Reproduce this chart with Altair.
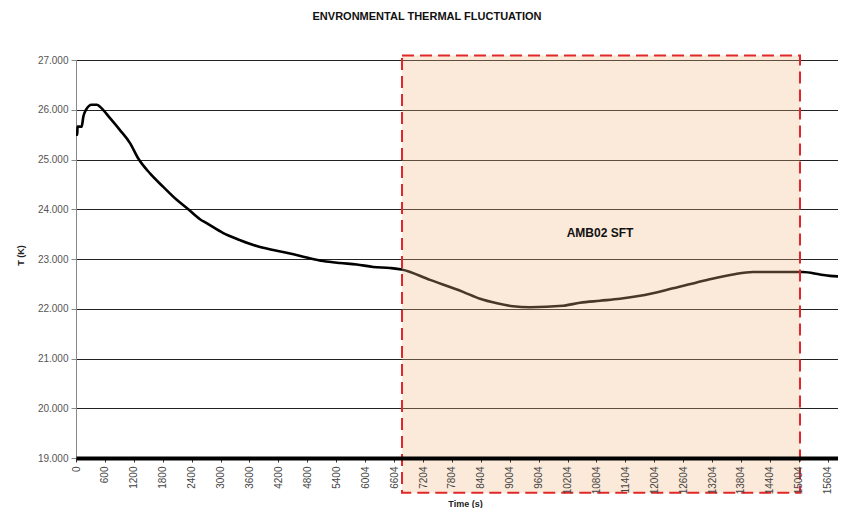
import altair as alt
import pandas as pd

# Time (s) and temperature (K)
time_s = [0, 27, 30, 118, 152, 208, 326, 436, 498, 706, 913, 1121, 1293, 1536, 1812,
          2091, 2331, 2574, 2713, 3058, 3405, 3751, 4096, 4443, 4789, 5134, 5481,
          5827, 6172, 6518, 6761, 7349, 8034, 8387, 8740, 9072, 9425, 10110, 10463,
          10878, 11293, 11709, 12394, 13099, 13639, 14054, 15092, 15445, 15653, 15819]
temp_k = [25.50, 25.50, 25.66, 25.66, 25.86, 26.00, 26.10, 26.10, 26.06, 25.83, 25.59,
          25.33, 25.02, 24.72, 24.45, 24.19, 24.00, 23.80, 23.72, 23.52, 23.38, 23.26,
          23.18, 23.11, 23.03, 22.96, 22.92, 22.89, 22.84, 22.82, 22.79, 22.58, 22.34,
          22.20, 22.11, 22.05, 22.03, 22.06, 22.12, 22.16, 22.20, 22.26, 22.41, 22.58,
          22.69, 22.74, 22.74, 22.69, 22.66, 22.65]

x_ticks = [0, 600, 1200, 1800, 2400, 3000, 3600, 4200, 4800, 5400, 6004, 6604, 7204,
           7804, 8404, 9004, 9604, 10204, 10804, 11404, 12004, 12604, 13204, 13804,
           14404, 15004, 15604]
y_ticks = [19, 20, 21, 22, 23, 24, 25, 26, 27]

# highlighted interval
box_x = [6768]
box_x2 = [15030]
box_y = [18.3]
box_y2 = [27.09]
box_label = ["AMB02 SFT"]
label_x = [10878]
label_y = [23.52]

FONT = "Liberation Sans"

df = pd.DataFrame({"t": time_s, "T": temp_k})
box_df = pd.DataFrame({"x": box_x, "x2": box_x2, "y": box_y, "y2": box_y2})
lab_df = pd.DataFrame({"x": label_x, "y": label_y, "txt": box_label})

xscale = alt.Scale(domain=[0, 15819], nice=False, zero=False)
yscale = alt.Scale(domain=[19, 27], nice=False, zero=False)

x_axis = alt.Axis(values=x_ticks, format="d", labelAngle=270, labelFontSize=10,
                  labelColor="#444", labelFont=FONT, grid=False,
                  domainColor="black", domainWidth=4, tickColor="#333",
                  tickSize=4, labelPadding=4, labelOverlap=False,
                  labelFlush=False,
                  title="Time (s)", titleFont=FONT, titleFontSize=9,
                  titleFontWeight="bold", titleColor="#222",
                  titleX=389, titleY=50, titleAlign="center",
                  titleBaseline="bottom", zindex=1)
y_axis = alt.Axis(values=y_ticks, format=".3f", labelFontSize=10,
                  labelColor="#555", labelFont=FONT, grid=True,
                  gridColor="#222", gridWidth=1, domainColor="#888",
                  tickColor="#888", tickSize=5, labelPadding=3,
                  labelOverlap=False,
                  title="T (K)", titleFont=FONT, titleFontSize=9,
                  titleFontWeight="bold", titleColor="#222",
                  titleX=-56, titleY=195, titleAngle=270,
                  titleAlign="center", titleBaseline="middle")

line = alt.Chart(df).mark_line(color="black", strokeWidth=2.6, interpolate="monotone").encode(
    x=alt.X("t:Q", scale=xscale, axis=x_axis),
    y=alt.Y("T:Q", scale=yscale, axis=y_axis),
)

box = alt.Chart(box_df).mark_rect(
    fill="#f2b680", fillOpacity=0.3, stroke="#e0282a", strokeWidth=2,
    strokeDash=[12, 6]
).encode(
    x=alt.X("x:Q", scale=xscale, axis=x_axis),
    x2="x2:Q",
    y=alt.Y("y:Q", scale=yscale, axis=y_axis),
    y2="y2:Q",
)

label = alt.Chart(lab_df).mark_text(
    font=FONT, fontSize=12, fontWeight="bold", color="#111"
).encode(
    x=alt.X("x:Q", scale=xscale, axis=x_axis),
    y=alt.Y("y:Q", scale=yscale, axis=y_axis),
    text="txt:N",
)

chart = alt.layer(line, box, label).properties(
    width=762,
    height=398,
    background="white",
    title=alt.TitleParams("ENVRONMENTAL THERMAL FLUCTUATION", font=FONT, fontSize=11,
                          fontWeight="bold", color="#111", anchor="middle",
                          frame="group", offset=33, dx=-30),
    autosize=alt.AutoSizeParams(type="none"),
    padding={"left": 68, "top": 52, "right": 0, "bottom": 50},
).configure_view(strokeWidth=0).configure_axis(labelOverlap=False)

chart.save("out.html", embed_options={"renderer": "svg", "actions": False})
